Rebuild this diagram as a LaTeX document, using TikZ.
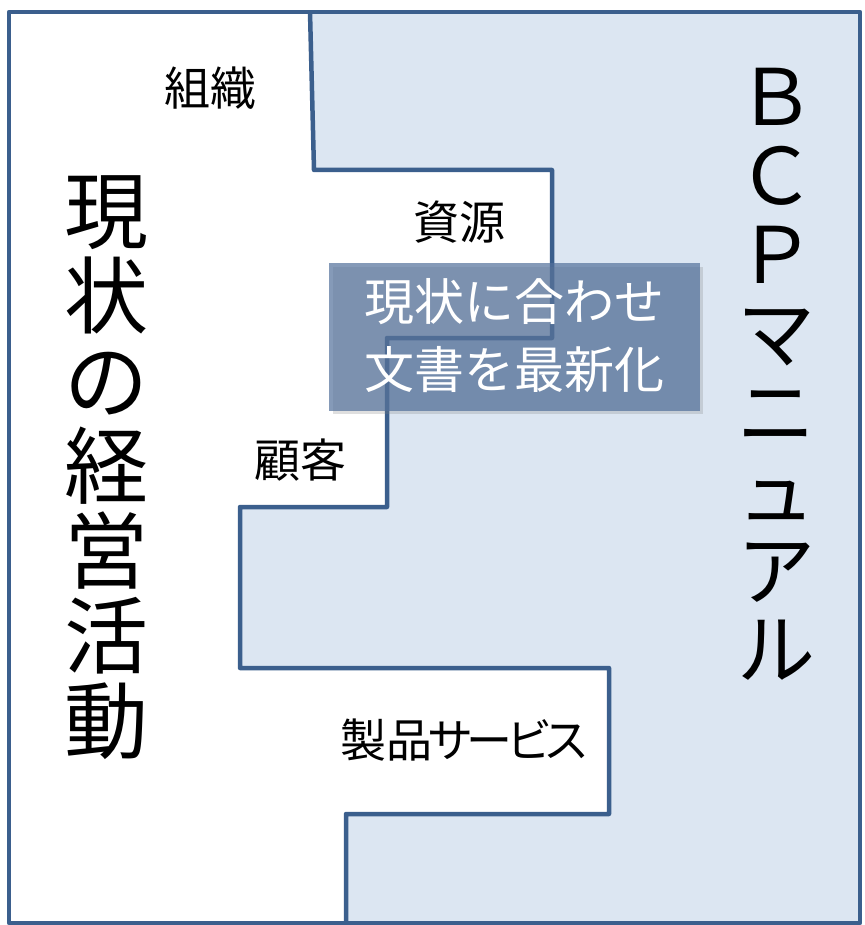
\documentclass[tikz,border=0pt]{standalone}
\usepackage{fontspec}
\setmainfont{Noto Sans CJK JP}
\newfontfamily\paltfont[RawFeature=+palt]{Noto Sans CJK JP}
\definecolor{lineblue}{HTML}{3B5F8D}
\definecolor{lightfill}{HTML}{DCE6F2}
\definecolor{boxfill}{RGB}{82,112,155}
\newcommand{\kk}{\kern-4.5pt}
\tikzset{
  border/.style={draw=lineblue, line width=4.5pt, line join=round},
  label/.style={inner sep=0pt, font=\fontsize{46}{46}\selectfont, text=black},
  bigcol/.style={inner sep=0pt, align=center, font=\fontsize{84}{85}\selectfont, text=black},
  bcpcol/.style={inner sep=0pt, align=center, font=\fontsize{78}{79}\selectfont, text=black},
  boxtext/.style={inner sep=0pt, align=center, font=\fontsize{50}{68}\selectfont, text=white}
}
\begin{document}
\begin{tikzpicture}[x=1pt,y=-1pt]
\useasboundingbox (0,0) rectangle (864,925);
\fill[white] (0,0) rectangle (864,925);
% light blue region
\fill[lightfill] (310,12) -- (860,12) -- (860,923) -- (346,923) -- (346,814) -- (609,814)
  -- (609,668) -- (240,668) -- (240,507) -- (387,507) -- (387,338) -- (552,338)
  -- (552,170) -- (314,170) -- cycle;
% staircase line
\draw[border] (310,12) -- (314,170) -- (552,170) -- (552,338) -- (387,338) -- (387,507)
  -- (240,507) -- (240,668) -- (609,668) -- (609,814) -- (346,814) -- (346,923);
% outer frame
\draw[border] (9,12) rectangle (860,923);
% labels
\node[label] (soshiki) at (210,88) {組織};
\node[label] (shigen) at (459,222) {資源};
\node[label] (kokyaku) at (300,460) {顧客};
\node[label, font=\paltfont\fontsize{46}{46}\selectfont] (seihin) at (464,740) {製品\kk サ\kk ー\kk ビ\kk ス};
% big vertical texts
\node[bigcol] (genjo) at (106,468) {現\\状\\の\\経\\営\\活\\動};
\node[bcpcol] (bcp) at (776,374) {Ｂ\\Ｃ\\Ｐ\\マ\\ニ\\ュ\\ア\\ル};
% translucent box
\fill[gray, opacity=0.25] (333,267) rectangle (703,414);
\fill[boxfill, opacity=0.7] (329,263) rectangle (700,411);
\node[boxtext] (update) at (514,336) {現状に合わせ\\文書を最新化};
\end{tikzpicture}
\end{document}
